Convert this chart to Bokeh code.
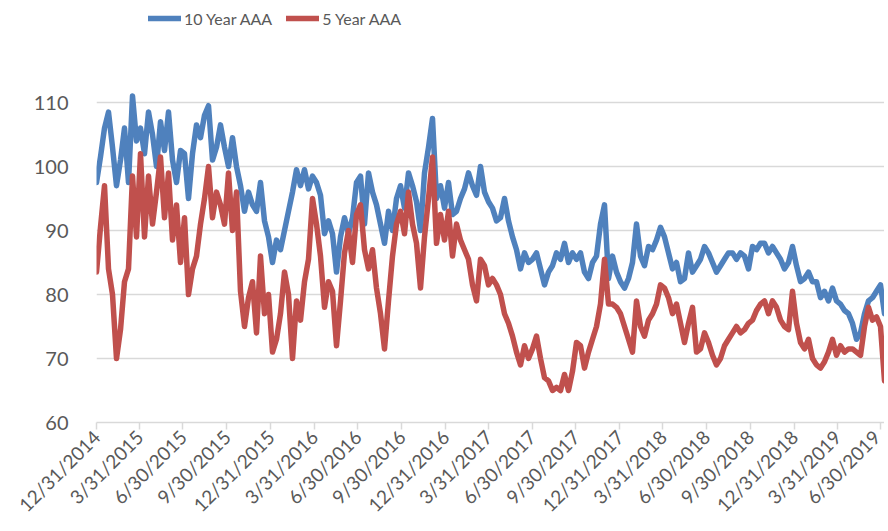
import math
import pandas as pd
from bokeh.plotting import figure
from bokeh.models import (ColumnDataSource, Range1d, FixedTicker, Legend, LegendItem)
from bokeh.embed import file_html
from bokeh.resources import INLINE

# ---- data ----
series_names = ["10 Year AAA", "5 Year AAA"]
start_date = "2014-12-31"
end_date = "2019-07-08"

tick_labels = ["12/31/2014", "3/31/2015", "6/30/2015", "9/30/2015", "12/31/2015",
               "3/31/2016", "6/30/2016", "9/30/2016", "12/31/2016", "3/31/2017",
               "6/30/2017", "9/30/2017", "12/31/2017", "3/31/2018", "6/30/2018",
               "9/30/2018", "12/31/2018", "3/31/2019", "6/30/2019"]

y_ticks = [60, 70, 80, 90, 100, 110]

aaa_10y = [
    97.5, 101.5, 106, 108.5, 103, 97, 101, 106, 97.5, 111,
    104, 106, 102, 108.5, 105, 100, 107, 102.5, 108.5, 101,
    97.5, 102.5, 102, 95, 102, 106.5, 104.5, 108, 109.5, 101,
    103, 106.5, 103, 100, 104.5, 100, 97, 93, 96, 94,
    93, 97.5, 91.5, 89, 85, 88.5, 87, 90, 93, 96,
    99.5, 97, 99.5, 96.5, 98.5, 97.5, 95.5, 89.5, 91.5, 89.5,
    83.5, 89, 92, 89.5, 92, 97.5,
    98.5, 91, 99, 96,
    94, 91, 88, 93, 90, 95, 97, 93.5, 99, 97,
    94.5, 90, 99, 103, 107.5, 95, 97, 93.5, 97.5, 92.5,
    93, 95, 96.5, 99, 97, 95.5, 100, 96, 94.5, 93.5,
    91.5, 92, 95, 91.5, 89, 87, 84, 86.5, 85, 85.5,
    86.5, 84, 81.5, 83.5, 84.5, 86.5, 85.5, 88, 85, 86.5,
    85.5, 86.5, 83.5, 82.5, 85, 86, 91, 94, 82.5, 86,
    83.5, 82,
    81, 82.5, 85, 91, 86, 84.5, 87.5, 87,
    88.5, 90.5, 89, 86.5, 84, 85, 82, 82.5, 86.5, 83.5,
    84.5, 85.5, 87.5, 86.5, 85, 83.5, 84.5, 85.5, 86.5, 86.5,
    85.5, 86.5, 86, 84, 87.5, 87, 88, 88, 86.5, 87.5,
    86.5, 85.5, 84, 85, 87.5, 84.5, 82, 82.5, 83.5, 82,
    82, 79.5, 80.5, 79, 81, 79, 78.5, 77.5, 77, 75.5,
    73, 74, 77, 79, 79.5, 80.5, 81.5, 77,
]

aaa_5y = [
    83.5, 90.5, 97, 84, 80, 70, 74.5, 82, 84, 98.5,
    89, 102, 89, 98.5, 91, 96, 101.5, 92, 99, 88.5,
    94, 85, 92, 80, 84, 86, 91, 95, 100, 92,
    96, 94, 91, 99, 90, 96, 80.5, 75, 79.5, 82,
    74, 86, 77, 80, 71, 73, 77, 83.5, 80, 70,
    79, 76, 82, 85.5, 95, 91, 86, 78, 82, 80.5,
    72, 79, 86.5, 90, 85, 92.5,
    94, 87, 84, 87,
    81, 77, 71.5, 79, 86, 91, 93, 89.5, 96, 91,
    88, 81, 89, 95, 101.5, 88, 92.5, 88.5, 93, 86,
    91, 88.5, 87, 85.5, 81.5, 79, 85.5, 84.5, 81.5, 82.5,
    81.5, 80, 77, 75.5, 73.5, 71, 69, 72, 70, 71.5,
    73.5, 70, 67, 66.5, 65, 65.5, 65, 67.5, 65, 68,
    72.5, 72, 68.5, 71, 73, 75, 78.5, 85.5, 78.5, 78.5,
    78, 77,
    75, 73, 71, 79, 75, 73.5, 76, 77,
    78.5, 81.5, 81, 79.5, 77, 78.5, 75.5, 72.5, 75.5, 78,
    71, 71.5, 74, 72.5, 70.5, 69, 70, 72, 73, 74,
    75, 74, 74.5, 75.5, 76, 77.5, 78.5, 79, 77, 79,
    78, 76, 75, 74.5, 80.5, 75.5, 72.5, 71.5, 73, 70,
    69, 68.5, 69.5, 71, 73, 70.5, 72, 71, 71.5, 71.5,
    71, 70.5, 75, 78, 76, 76.5, 75, 66.5,
]

colors = ["#4F81BD", "#C0504D"]
TEXT = "#595959"
GRID = "#D9D9D9"

# ---- build ----
t0 = pd.Timestamp(start_date)
dates = pd.date_range(start_date, end_date, periods=len(aaa_10y))
days = [(d - t0).total_seconds() / 86400.0 for d in dates]
tick_pos = [int((pd.Timestamp(l) - t0).days) for l in tick_labels]
last_day = (pd.Timestamp(end_date) - t0).days

src = ColumnDataSource(dict(x=days, a10=aaa_10y, a5=aaa_5y))

# frame spans the full height above the axis so the legend sits inside it
p = figure(width=884, height=528, output_backend="svg", toolbar_location=None,
           x_range=Range1d(0, last_day), y_range=Range1d(60, 125.9375),
           min_border_left=96, min_border_right=0, min_border_top=0,
           min_border_bottom=106)
p.outline_line_color = None
p.background_fill_color = "white"
p.border_fill_color = "white"

r1 = p.line("x", "a10", source=src, line_color=colors[0], line_width=5.5,
            line_join="round", line_cap="round")
r2 = p.line("x", "a5", source=src, line_color=colors[1], line_width=5.5,
            line_join="round", line_cap="round")

p.xgrid.grid_line_color = None
p.ygrid.grid_line_color = GRID
p.ygrid.grid_line_width = 1.5

yax = p.yaxis[0]
yax.ticker = FixedTicker(ticks=y_ticks)
yax.axis_line_color = None
yax.major_tick_line_color = None
yax.minor_tick_line_color = None
yax.major_label_standoff = 22
yax.major_label_text_font = "Lato"
yax.major_label_text_font_size = "20px"
yax.major_label_text_color = TEXT

xax = p.xaxis[0]
xax.ticker = FixedTicker(ticks=tick_pos)
xax.major_label_overrides = {tp: lbl for tp, lbl in zip(tick_pos, tick_labels)}
xax.major_label_orientation = math.pi / 4
xax.axis_line_color = GRID
xax.axis_line_width = 1.5
xax.major_tick_line_color = GRID
xax.major_tick_line_width = 1.5
xax.major_tick_out = 7
xax.major_tick_in = 0
xax.minor_tick_line_color = None
xax.major_label_standoff = 4
xax.major_label_text_font = "Lato"
xax.major_label_text_font_size = "19px"
xax.major_label_text_color = TEXT

legend = Legend(items=[LegendItem(label=series_names[0], renderers=[r1]),
                       LegendItem(label=series_names[1], renderers=[r2])],
                orientation="horizontal", location=(52, 394),
                padding=0, margin=0, spacing=14, label_standoff=3,
                glyph_width=33, glyph_height=20, label_height=20,
                border_line_color=None, background_fill_alpha=0,
                label_text_font="Lato",
                label_text_font_size="16px", label_text_color=TEXT)
p.add_layout(legend, "center")

open("out.html", "w").write(file_html(p, INLINE))
